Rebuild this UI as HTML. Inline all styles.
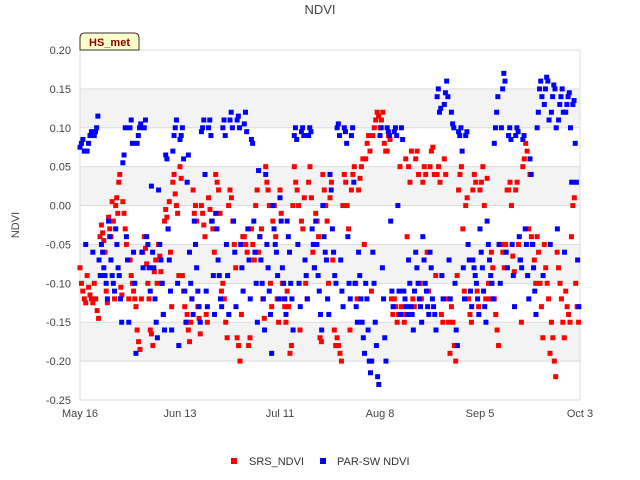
<!DOCTYPE html>
<html><head><meta charset="utf-8"><style>
body{margin:0;background:#fff;font-family:"Liberation Sans",sans-serif;}
svg{display:block}
</style></head><body>
<svg id="chart" width="640" height="480" viewBox="0 0 640 480" xmlns="http://www.w3.org/2000/svg">
<rect width="640" height="480" fill="#fff"/>
<text x="320" y="14" text-anchor="middle" font-size="13" fill="#444">NDVI</text>
<text x="19" y="225" text-anchor="middle" font-size="11" fill="#444" transform="rotate(-90 19 225)">NDVI</text>
<g id="plot"></g>
<g id="axes"></g>
<g>
<path d="M80,50 L80,38 Q80,33 85,33 L134,33 Q139,33 139,38 L139,50 Z" fill="#ffffcc" stroke="#333" stroke-width="1"/>
<text x="109.5" y="46" text-anchor="middle" font-size="11" font-weight="bold" fill="#8b0000">HS_met</text>
</g>
<g>
<rect x="231" y="458" width="6" height="6" fill="#ff0000"/>
<text x="249" y="465" font-size="11" fill="#333">SRS_NDVI</text>
<rect x="320" y="458" width="6" height="6" fill="#0000ff"/>
<text x="337" y="465" font-size="11" fill="#333">PAR-SW NDVI</text>
</g>
</svg>
<script>
const yTicks=[0.20,0.15,0.10,0.05,0.00,-0.05,-0.10,-0.15,-0.20,-0.25];
const xTickDays=[0,28,56,84,112,140];
const xTickLabels=["May 16","Jun 13","Jul 11","Aug 8","Sep 5","Oct 3"];
const days=[0,2,4,6,8,10,12,14,16,18,20,22,24,26,28,30,32,34,36,38,40,42,44,46,48,50,52,54,56,58,60,62,64,66,68,70,72,74,76,78,80,82,84,86,88,90,92,94,96,98,100,102,104,106,108,110,112,114,116,118,120,122,124,126,128,130,132,134,136,138];
const srsValues=[
[-0.08,-0.1,-0.11,-0.12,-0.125],[-0.09,-0.105,-0.115,-0.12,-0.125],[-0.1,-0.12,-0.135,-0.145,-0.04],[-0.025,-0.035,-0.045,-0.06,-0.11,-0.125],
[-0.015,-0.03,-0.04,0.005,-0.02,-0.12],[0.0,0.01,-0.01,0.03,0.04,-0.105,-0.115],[0.005,-0.01,-0.03,-0.05,-0.07,-0.12],[-0.07,-0.09,-0.1,-0.11,-0.12,-0.13],
[-0.16,-0.175,-0.185,-0.12,-0.06],[-0.04,-0.055,-0.075,-0.1,-0.12,-0.16],[-0.165,-0.18,-0.085,-0.07,-0.1],[-0.05,-0.065,-0.085,-0.1,-0.14,-0.02],
[-0.005,-0.015,-0.03,0.005,-0.06,-0.13],[0.03,0.04,0.015,0.0,-0.01,-0.09],[0.05,0.035,-0.09,-0.11,-0.13,-0.15],[-0.14,-0.16,-0.175,-0.15,-0.12,0.02],
[-0.01,0.0,-0.02,-0.13,-0.145,-0.165],[0.0,-0.01,-0.025,-0.04,-0.14,-0.15],[0.01,-0.005,-0.02,-0.03,-0.06],[0.04,0.03,0.02,-0.01,-0.11],
[-0.1,-0.12,-0.15,-0.17,0.0],[0.02,0.01,-0.02,-0.05,-0.08],[-0.17,-0.18,-0.2,-0.14,-0.04],[-0.04,-0.05,-0.06,-0.18,-0.17],
[-0.03,-0.05,-0.07,0.0,0.02],[-0.06,-0.04,-0.03,-0.12,-0.145],[0.05,0.03,0.02,0.0,-0.1,-0.13],[-0.02,0.0,-0.04,-0.12,-0.15],
[0.02,-0.01,-0.1,-0.12,-0.13,-0.15],[-0.11,-0.13,-0.19,-0.18,0.0],[0.05,0.03,0.02,0.0,-0.16],[-0.02,-0.03,0.01,-0.1,-0.12],
[0.03,0.05,0.01,-0.06,-0.08],[-0.01,-0.02,-0.04,-0.17,-0.175],[0.04,0.02,0.0,-0.02,-0.1],[0.01,0.03,-0.07,-0.16,-0.18],
[-0.17,-0.18,-0.19,-0.2,0.0],[0.04,0.03,0.0,-0.03,-0.16],[0.02,0.04,0.05,-0.1,-0.12],[0.02,0.035,0.05,0.06,-0.05],
[0.06,0.08,0.09,0.07,-0.11],[0.09,0.1,0.11,0.12,0.115],[0.1,0.11,0.12,0.08,0.07],[0.07,0.09,0.085,-0.12,-0.14],
[-0.12,-0.13,-0.15,-0.14,0.05],[-0.13,-0.14,-0.15,0.06,-0.04],[0.05,0.03,0.07,-0.12,-0.13],[0.06,0.07,0.04,-0.1,-0.12],
[0.03,0.05,0.04,-0.06,-0.11],[0.05,0.07,0.075,0.04,-0.09],[0.04,0.05,0.03,-0.14,-0.15],[0.06,0.04,-0.12,-0.15,-0.19],
[-0.13,-0.15,-0.18,-0.2,-0.09],[0.02,0.04,0.05,-0.03,-0.11],[0.0,0.01,-0.12,-0.14,-0.15],[0.02,0.04,0.03,-0.11,-0.13],
[0.02,0.03,0.05,0.0,-0.12],[0.035,-0.1,-0.12,-0.06,-0.08],[-0.12,-0.14,-0.16,-0.18,-0.05],[-0.05,-0.06,-0.08,-0.05,0.02],
[0.02,0.03,0.0,-0.065,-0.085],[0.02,0.03,-0.05,-0.07,-0.15],[0.05,0.06,0.08,0.07,-0.03],[0.04,-0.04,-0.05,-0.07,-0.1],
[-0.04,-0.06,-0.1,-0.13,-0.17],[-0.05,-0.08,-0.1,-0.12,-0.19],[-0.15,-0.17,-0.2,-0.22,-0.06],[-0.08,-0.1,-0.12,-0.15,-0.17],
[-0.11,-0.13,-0.14,-0.15,-0.04],[0.0,0.01,-0.1,-0.13,-0.15]];
const parValues=[
[0.075,0.08,0.085,0.07,-0.05],[0.07,0.08,0.09,0.095,-0.06],[0.09,0.095,0.1,0.115,-0.07,-0.09],[-0.05,-0.06,-0.08,-0.09,-0.1,-0.12],
[-0.02,-0.04,-0.07,-0.09,-0.1,-0.11],[-0.03,-0.05,-0.08,-0.09,-0.12,-0.15],[0.055,0.065,0.1,-0.04,-0.07,-0.15],[0.1,0.11,0.08,-0.06,-0.1,-0.19],
[0.08,0.09,0.1,0.105,-0.06,-0.08],[0.1,0.11,-0.04,-0.05,-0.08,-0.11],[0.025,-0.06,-0.08,-0.12,-0.15,-0.17],[0.02,-0.05,-0.07,-0.1,-0.14,-0.16],
[0.065,0.06,-0.03,-0.07,-0.11,-0.16],[0.07,0.09,0.1,0.11,-0.1,-0.18],[0.085,0.09,0.1,0.06,-0.11,-0.15],[0.03,0.065,-0.06,-0.1,-0.12,-0.14],
[-0.02,-0.05,-0.08,-0.11,-0.13,-0.15],[0.095,0.1,0.11,0.04,-0.11,-0.13],[0.1,0.11,0.09,-0.02,-0.09,-0.14],[-0.01,-0.03,-0.07,-0.09,-0.12,-0.13],
[0.1,0.11,0.09,-0.05,-0.09,-0.14],[0.11,0.12,0.1,-0.02,-0.06,-0.13],[0.11,0.115,0.1,-0.05,-0.08,-0.11],[0.105,0.12,0.095,-0.03,-0.07,-0.12],
[0.085,0.08,-0.02,-0.06,-0.1,-0.15],[0.045,-0.04,-0.07,-0.1,-0.12,-0.16],[0.04,-0.05,-0.08,-0.11,-0.14,-0.19],[0.0,-0.03,-0.05,-0.06,-0.09,-0.12],
[0.01,-0.02,-0.08,-0.1,-0.12,-0.14],[-0.02,-0.04,-0.06,-0.1,-0.12,-0.16],[0.09,0.1,0.085,-0.05,-0.1,-0.13],[0.095,0.1,0.09,-0.07,-0.09,-0.12],
[0.09,0.1,0.095,-0.03,-0.05,-0.08],[-0.02,-0.05,-0.09,-0.11,-0.14,-0.16],[0.0,-0.04,-0.06,-0.07,-0.12,-0.14],[0.04,0.02,-0.03,-0.06,-0.09,-0.1],
[0.1,0.105,0.09,-0.07,-0.11,-0.13],[0.1,0.095,0.08,-0.04,-0.1,-0.12],[0.09,0.1,0.03,-0.1,-0.13,-0.15],[-0.06,-0.09,-0.12,-0.15,-0.17,-0.19],
[-0.1,-0.12,-0.16,-0.2,-0.215,-0.2],[-0.06,-0.1,-0.15,-0.18,-0.22,-0.23],[0.09,0.1,-0.08,-0.12,-0.17,-0.2],[0.1,0.095,0.09,-0.02,-0.11,-0.13],
[0.095,0.1,0.09,0.0,-0.11,-0.14],[0.1,0.085,-0.11,-0.12,-0.13,-0.14],[-0.07,-0.1,-0.13,-0.14,-0.16,-0.11],[-0.06,-0.08,-0.1,-0.12,-0.13,-0.15],
[-0.04,-0.07,-0.1,-0.11,-0.13,-0.14],[-0.06,-0.08,-0.12,-0.13,-0.14,-0.16],[0.14,0.15,0.12,0.125,-0.09,-0.12],[0.13,0.145,0.16,0.14,-0.07,-0.12],
[0.12,0.105,0.1,-0.1,-0.16,-0.18],[0.095,0.09,0.1,0.07,-0.08,-0.12],[0.09,0.095,-0.05,-0.07,-0.11,-0.13],[-0.07,-0.08,-0.09,-0.1,-0.12,-0.14],
[-0.03,-0.06,-0.08,-0.11,-0.13,-0.15],[-0.02,-0.05,-0.07,-0.09,-0.1,-0.12],[0.08,0.1,0.12,0.14,-0.05,-0.1],[0.1,0.15,0.17,0.16,-0.06,-0.08],
[0.09,0.1,0.085,-0.05,-0.09,-0.13],[0.09,0.1,0.095,-0.04,-0.07,-0.08],[0.085,0.09,-0.03,-0.05,-0.09,-0.12],[0.06,0.04,-0.05,-0.08,-0.11,-0.14],
[0.1,0.12,0.15,0.16,0.14,-0.09],[0.13,0.15,0.165,0.16,0.11,-0.05],[0.12,0.14,0.155,0.15,0.1,-0.03],[0.11,0.13,0.14,0.15,0.12,-0.06],
[0.12,0.13,0.14,0.145,0.1,0.03],[0.13,0.135,0.08,0.03,-0.07,-0.13]];

const X0=80,X1=580,Y0=50,Y1=400,DMAX=140,VMIN=-0.25,VMAX=0.20;
function xScale(d){return X0+(d/DMAX)*(X1-X0);}
function yScale(v){return Y0+(VMAX-v)/(VMAX-VMIN)*(Y1-Y0);}
const NS="http://www.w3.org/2000/svg";
const plot=document.getElementById('plot'),axes=document.getElementById('axes');
function mk(tag,attrs,parent){const e=document.createElementNS(NS,tag);for(const k in attrs)e.setAttribute(k,attrs[k]);parent.appendChild(e);return e;}
for(let i=0;i<yTicks.length-1;i++){
  if(i%2===1){const b=mk('rect',{x:X0,y:yScale(yTicks[i]),width:X1-X0,height:yScale(yTicks[i+1])-yScale(yTicks[i]),fill:'#f3f3f3'},plot);
  
  }
}
yTicks.forEach(v=>{
  const l=mk('line',{x1:X0,x2:X1,y1:yScale(v),y2:yScale(v),stroke:'#dddddd','stroke-width':1},plot);
  
  
  const t=mk('text',{x:X0-9,y:yScale(v)+4,'text-anchor':'end','font-size':11,fill:'#444'},axes);
  t.textContent=v.toFixed(2);
  
  
});
[0,DMAX].forEach(d=>{
  const l=mk('line',{x1:xScale(d),x2:xScale(d),y1:Y0,y2:Y1,stroke:'#dddddd','stroke-width':1},plot);
  
  
});
xTickDays.forEach((d,i)=>{
  const t=mk('text',{x:xScale(d),y:Y1+17,'text-anchor':'middle','font-size':11,fill:'#444'},axes);
  t.textContent=xTickLabels[i];
  
  
});
function drawSeries(vals,color,name){
  const g=mk('g',{},plot);
  
  
  vals.forEach((arr,i)=>{
    arr.forEach((v,j)=>{
      const d=days[i]+j*(2/arr.length);
      const r=mk('rect',{x:xScale(d)-2.5,y:yScale(v)-2.5,width:5,height:5,fill:color},g);
      
      
    });
  });
}
drawSeries(srsValues,'#ff0000','srs-ndvi');
drawSeries(parValues,'#0000ff','par-sw-ndvi');
</script>
</body></html>
